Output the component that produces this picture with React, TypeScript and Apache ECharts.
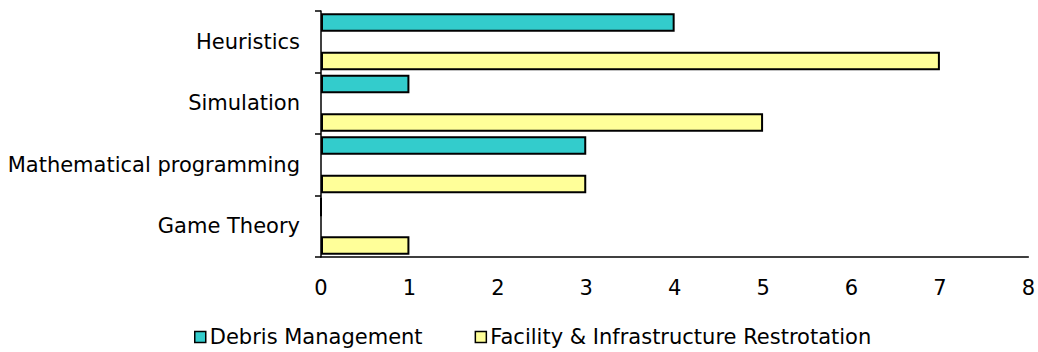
import React, { useEffect, useRef } from "react";
import * as echarts from "echarts";

const categories = ["Heuristics", "Simulation", "Mathematical programming", "Game Theory"];
const debrisValues = [4, 1, 3, 0];
const facilityValues = [7, 5, 3, 1];
const seriesNames = ["Debris Management", "Facility & Infrastructure Restrotation"];
const xTicks = { min: 0, max: 8, interval: 1 };

const FONT = "'DejaVu Sans', 'Liberation Sans', Arial, sans-serif";

export default function App() {
  const ref = useRef<HTMLDivElement>(null);

  useEffect(() => {
    document.body.style.margin = "0";
    const chart = echarts.init(ref.current!, null, { renderer: "svg" });
    const barStyle = (color: string) => ({
      color,
      borderColor: "#000",
      borderWidth: 2,
    });
    chart.setOption({
      animation: false,
      backgroundColor: "#fff",
      textStyle: { fontFamily: FONT, color: "#000" },
      grid: { left: 321, top: 11, right: 8, bottom: 95, containLabel: false },
      xAxis: {
        type: "value",
        min: xTicks.min,
        max: xTicks.max,
        interval: xTicks.interval,
        axisLine: { show: true, lineStyle: { color: "#000", width: 1.5 } },
        axisTick: { show: false },
        splitLine: { show: false },
        axisLabel: { fontFamily: FONT, fontSize: 21, color: "#000", margin: 20 },
      },
      yAxis: {
        type: "category",
        inverse: true,
        data: categories,
        axisLine: { show: true, lineStyle: { color: "#000", width: 1.5 } },
        axisTick: { show: true, inside: false, length: 6, lineStyle: { color: "#000", width: 1.5 } },
        axisLabel: { fontFamily: FONT, fontSize: 21, color: "#000", margin: 21 },
        splitLine: { show: false },
      },
      legend: {
        left: 189,
        top: 321,
        padding: 5,
        itemWidth: 11,
        itemHeight: 11,
        itemGap: 52,
        icon: "rect",
        itemStyle: { borderColor: "#000", borderWidth: 1.5 },
        textStyle: { fontFamily: FONT, fontSize: 21, color: "#000", lineHeight: 22, padding: [0, 0, 0, -1] },
        data: seriesNames,
      },
      series: [
        {
          name: seriesNames[0],
          type: "bar",
          data: debrisValues,
          barWidth: 18.5,
          barGap: "107%",
          itemStyle: barStyle("#33CCCC"),
        },
        {
          name: seriesNames[1],
          type: "bar",
          data: facilityValues,
          barWidth: 18.5,
          barGap: "107%",
          itemStyle: barStyle("#FFFF99"),
        },
      ],
    });
    return () => chart.dispose();
  }, []);

  return <div ref={ref} style={{ width: 1038, height: 352 }} />;
}
